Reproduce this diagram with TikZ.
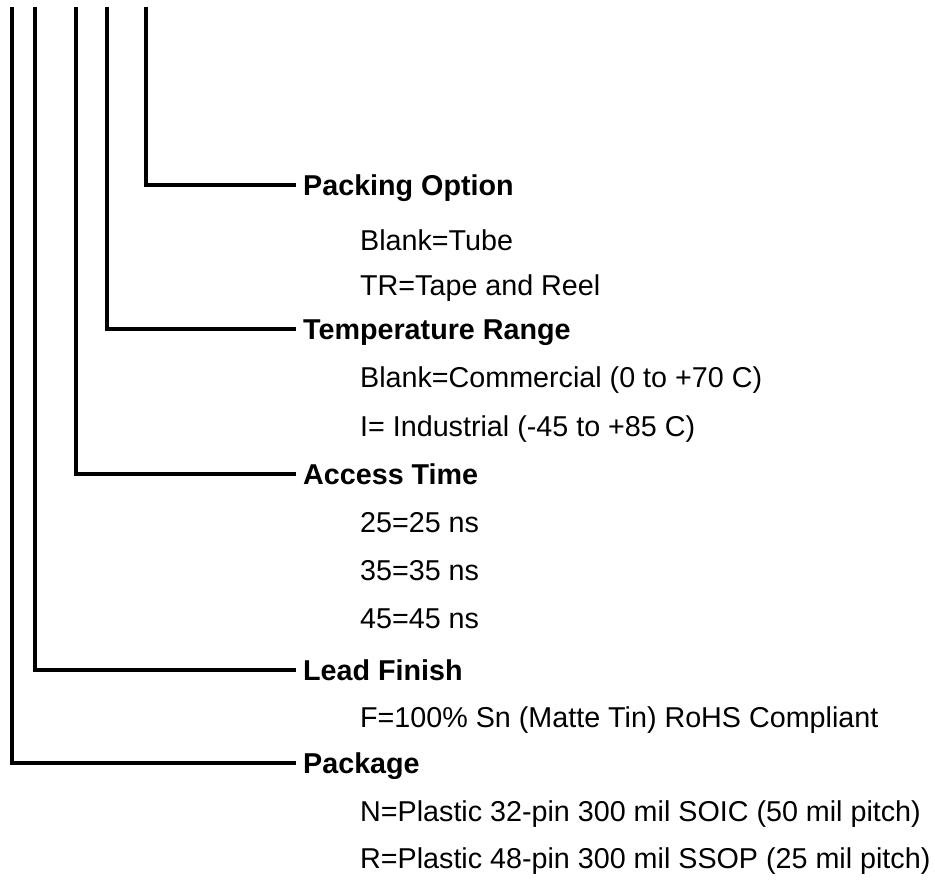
\documentclass[tikz,border=0pt]{standalone}
\usepackage{fontspec}
\setmainfont{Liberation Sans}
\usepackage{tikz}
\usetikzlibrary{positioning, calc}

\begin{document}
\begin{tikzpicture}[x=1pt, y=-1pt, font=\fontsize{28.7}{34}\selectfont,
  hd/.style={anchor=west, inner sep=0pt, text height=20.5pt, text depth=0pt,
             font=\fontsize{28.7}{34}\selectfont\bfseries},
  it/.style={anchor=west, inner sep=0pt, text height=20.5pt, text depth=0pt},
  ln/.style={line width=3.3pt, shorten >=7pt}]
\useasboundingbox (0,0) rectangle (935,880);
% field headings
\node[hd] (po) at (303,185) {Packing Option};
\node[hd] (tr) at (303,329) {Temperature Range};
\node[hd] (at) at (303,474) {Access Time};
\node[hd] (lf) at (303,670) {Lead Finish};
\node[hd] (pk) at (303,763) {Package};
% options
\node[it] (po1) at (360,240) {Blank=Tube};
\node[it] (po2) at (360,285) {TR=Tape and Reel};
\node[it] (tr1) at (360,377) {Blank=Commercial (0 to +70 C)};
\node[it] (tr2) at (360,426) {I= Industrial (-45 to +85 C)};
\node[it] (at1) at (360,522) {25=25 ns};
\node[it] (at2) at (360,570) {35=35 ns};
\node[it] (at3) at (360,618) {45=45 ns};
\node[it] (lf1) at (360,717) {F=100\% Sn (Matte Tin) RoHS Compliant};
\node[it] (pk1) at (360,811) {N=Plastic 32-pin 300 mil SOIC (50 mil pitch)};
\node[it] (pk2) at (360,858) {R=Plastic 48-pin 300 mil SSOP (25 mil pitch)};
% leads from the part number
\coordinate (p1) at (12,7);
\coordinate (p2) at (35,7);
\coordinate (p3) at (76,7);
\coordinate (p4) at (107,7);
\coordinate (p5) at (146,7);
\draw[ln] (p5) |- (po.west);
\draw[ln] (p4) |- (tr.west);
\draw[ln] (p3) |- (at.west);
\draw[ln] (p2) |- (lf.west);
\draw[ln] (p1) |- (pk.west);
\end{tikzpicture}
\end{document}
